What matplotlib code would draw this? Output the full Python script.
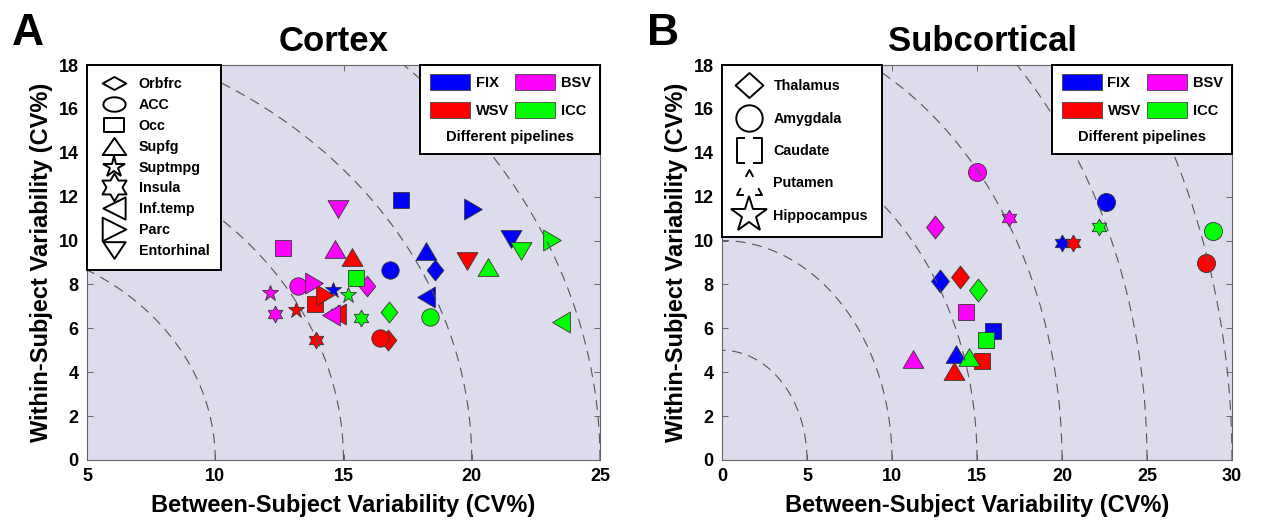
import numpy as np
import matplotlib
matplotlib.use('Agg')
import matplotlib.pyplot as plt
from matplotlib.path import Path
from matplotlib.lines import Line2D
from matplotlib.patches import Patch

plt.rcParams['font.family'] = ['Liberation Sans', 'DejaVu Sans']
plt.rcParams['font.weight'] = 'bold'
plt.rcParams['axes.labelweight'] = 'bold'
plt.rcParams['axes.titleweight'] = 'bold'

# ---------------- data (x = between-subject CV%, y = within-subject CV%) ----------------
pipelines = ['FIX', 'WSV', 'BSV', 'ICC']
pipe_colors = ['#0000ff', '#ff0000', '#ff00ff', '#00ff00']

cortex_regions = ['Orbfrc', 'ACC', 'Occ', 'Supfg', 'Suptmpg', 'Insula',
                  'Inf.temp', 'Parc', 'Entorhinal']
cortex_fix_x = [18.56, 16.81, 17.25, 18.22, 14.58, 14.80, 18.22, 20.04, 21.52]
cortex_fix_y = [8.66, 8.66, 11.85, 9.54, 7.75, 6.70, 7.45, 11.44, 10.08]
cortex_wsv_x = [16.74, 16.44, 13.87, 15.32, 13.13, 13.91, 14.75, 14.27, 19.81]
cortex_wsv_y = [5.48, 5.55, 7.12, 9.24, 6.84, 5.48, 6.65, 7.50, 9.09]
cortex_bsv_x = [15.93, 13.21, 12.63, 14.65, 12.13, 12.32, 14.51, 13.84, 14.78]
cortex_bsv_y = [7.95, 7.95, 9.67, 9.62, 7.60, 6.66, 6.59, 8.06, 11.44]
cortex_icc_x = [16.78, 18.36, 15.50, 20.65, 15.19, 15.70, 23.48, 23.14, 21.93]
cortex_icc_y = [6.74, 6.51, 8.30, 8.79, 7.50, 6.48, 6.28, 10.03, 9.54]

sub_regions = ['Thalamus', 'Amygdala', 'Caudate', 'Putamen', 'Hippocampus']
sub_fix_x = [12.85, 22.61, 15.92, 13.74, 19.98]
sub_fix_y = [8.15, 11.74, 5.90, 4.81, 9.88]
sub_wsv_x = [14.00, 28.46, 15.29, 13.64, 20.63]
sub_wsv_y = [8.33, 8.98, 4.51, 4.05, 9.89]
sub_bsv_x = [12.55, 14.99, 14.34, 11.23, 16.91]
sub_bsv_y = [10.61, 13.11, 6.74, 4.58, 11.02]
sub_icc_x = [15.05, 28.89, 15.52, 14.53, 22.18]
sub_icc_y = [7.75, 10.42, 5.49, 4.69, 10.61]

ring_radii = [5, 10, 15, 20, 25, 30]


# ---------------- marker shapes ----------------
def closed(pts):
    pts = list(pts)
    return Path(pts + [pts[0]], closed=True)

def hexagram():
    k = np.arange(12)
    ang = np.pi / 2 + k * np.pi / 6
    rad = np.where(k % 2 == 0, 1.0, 1 / np.sqrt(3))
    return closed(zip(rad * np.cos(ang), rad * np.sin(ang)))

def ellipse(ry):
    t = np.linspace(0, 2 * np.pi, 60, endpoint=False)
    return closed(zip(np.cos(t), ry * np.sin(t)))

def diamond(rx, ry):
    return closed([(0, ry), (rx, 0), (0, -ry), (-rx, 0)])

def rect(ry):
    return closed([(-1, -ry), (1, -ry), (1, ry), (-1, ry)])

def tri(direction, h=0.85):
    pts = {'up': [(0, h), (1, -h), (-1, -h)],
           'down': [(0, -h), (1, h), (-1, h)],
           'left': [(-h, 0), (h, 1), (h, -1)],
           'right': [(h, 0), (-h, 1), (-h, -1)]}[direction]
    return closed(pts)

def brackets():
    v = [(-0.35, 1), (-1, 1), (-1, -1), (-0.35, -1),
         (0.35, 1), (1, 1), (1, -1), (0.35, -1)]
    c = [Path.MOVETO, Path.LINETO, Path.LINETO, Path.LINETO] * 2
    return Path(v, c)

def dashed_tri():
    v = [(-0.3, 0.45), (0, 1), (0.3, 0.45),
         (-0.7, -0.45), (-1, -1), (-0.45, -1),
         (0.45, -1), (1, -1), (0.7, -0.45)]
    c = [Path.MOVETO, Path.LINETO, Path.LINETO] * 3
    return Path(v, c)

HEX = hexagram()
# (marker, size) used in the scatter
cortex_mk = [(diamond(0.8, 1), 15), ('o', 12.5), ('s', 11), (tri('up'), 15),
             ('*', 12), (HEX, 12), (tri('left'), 15), (tri('right'), 15),
             (tri('down'), 15)]
sub_mk = [(diamond(0.78, 1), 16.5), ('o', 13), ('s', 11), (tri('up'), 15), (HEX, 12)]

# legend icons (wider, squashed like in the original figure)
cortex_leg_mk = [(diamond(1, 0.55), 17), (ellipse(0.65), 16), (rect(0.68), 15),
                 (tri('up', 0.72), 17), ('*', 16), (HEX, 20), (tri('left', 1.0), 16),
                 (tri('right', 1.0), 17), (tri('down', 0.75), 16)]
sub_leg_mk = [(diamond(1, 0.9), 20), ('o', 19), (brackets(), 18), (dashed_tri(), 18),
              ('*', 27)]
open_icons = ['Caudate', 'Putamen']


def panel(ax, xs, ys, markers, xlim, xticks, title, title_x):
    ax.set_facecolor('#dcdcec')
    for xv, yv, col in zip(xs, ys, pipe_colors):
        for x, y, (m, s) in zip(xv, yv, markers):
            ax.plot(x, y, ls='none', marker=m, ms=s, mfc=col, mec='#333333',
                    mew=0.6, zorder=3)
    t = np.linspace(0, np.pi / 2, 300)
    for r in ring_radii:
        ax.plot(r * np.cos(t), r * np.sin(t), color='#555555', lw=0.8,
                dashes=(9, 6), zorder=4)
    ax.set_xlim(*xlim)
    ax.set_ylim(0, 18)
    ax.set_xticks(xticks)
    ax.set_yticks(np.arange(0, 19, 2))
    ax.tick_params(direction='in', top=True, right=True, length=4, width=0.6,
                   color='#555555', labelsize=13, pad=6)
    for sp in ax.spines.values():
        sp.set_color('#666666')
        sp.set_linewidth(0.8)
    ax.set_xlabel('Between-Subject Variability (CV%)', fontsize=17, labelpad=6)
    ax.set_ylabel('Within-Subject Variability (CV%)', fontsize=17, labelpad=4)
    ax.set_title(title, fontsize=25, pad=10, x=title_x)


def region_legend(ax, names, leg_mk, **kw):
    hs = []
    for name, (m, s) in zip(names, leg_mk):
        fc = 'none' if name in open_icons else 'white'
        hs.append(Line2D([], [], ls='none', marker=m, ms=s, mfc=fc, mec='black', mew=1.4))
    leg = ax.legend(hs, names, loc='upper left', bbox_to_anchor=(0, 1),
                    borderaxespad=0, fancybox=False, edgecolor='black',
                    framealpha=1, fontsize=10.3, numpoints=1, **kw)
    leg.get_frame().set_linewidth(1.4)
    leg.set_zorder(10)
    ax.add_artist(leg)


def pipeline_legend(ax):
    hs = [Patch(facecolor=c, edgecolor='#444444', linewidth=0.6) for c in pipe_colors]
    leg = ax.legend(hs, pipelines, loc='upper right', bbox_to_anchor=(1, 1),
                    borderaxespad=0, fancybox=False, edgecolor='black',
                    framealpha=1, fontsize=10.5, ncol=2, borderpad=0.65,
                    labelspacing=0.85, handlelength=2.75, handleheight=1.25,
                    handletextpad=0.4, columnspacing=0.4,
                    title='Different pipelines',
                    title_fontproperties={'weight': 'bold', 'size': 10.5})
    leg.get_frame().set_linewidth(1.4)
    leg.set_zorder(10)
    kids = leg._legend_box.get_children()
    kids.reverse()  # title below the entries
    ax.add_artist(leg)


fig = plt.figure(figsize=(12.63, 5.31), dpi=100)
W, H = 1263, 531
ax1 = fig.add_axes([87 / W, 1 - 460 / H, (600 - 87) / W, (460 - 65) / H])
ax2 = fig.add_axes([722 / W, 1 - 460 / H, (1232 - 722) / W, (460 - 65) / H])

panel(ax1, [cortex_fix_x, cortex_wsv_x, cortex_bsv_x, cortex_icc_x],
      [cortex_fix_y, cortex_wsv_y, cortex_bsv_y, cortex_icc_y],
      cortex_mk, (5, 25), [5, 10, 15, 20, 25], 'Cortex', 0.48)
panel(ax2, [sub_fix_x, sub_wsv_x, sub_bsv_x, sub_icc_x],
      [sub_fix_y, sub_wsv_y, sub_bsv_y, sub_icc_y],
      sub_mk, (0, 30), [0, 5, 10, 15, 20, 25, 30], 'Subcortical', 0.51)

region_legend(ax1, cortex_regions, cortex_leg_mk, borderpad=0.85,
              labelspacing=0.48, handlelength=2.05, handletextpad=0.7)
region_legend(ax2, sub_regions, sub_leg_mk, borderpad=1.0,
              labelspacing=1.28, handlelength=1.75, handletextpad=0.85)
pipeline_legend(ax1)
pipeline_legend(ax2)

fig.text(12 / W, 1 - 45 / H, 'A', fontsize=32, fontweight='bold')
fig.text(647 / W, 1 - 45 / H, 'B', fontsize=32, fontweight='bold')

fig.savefig('out.png', dpi=100)
